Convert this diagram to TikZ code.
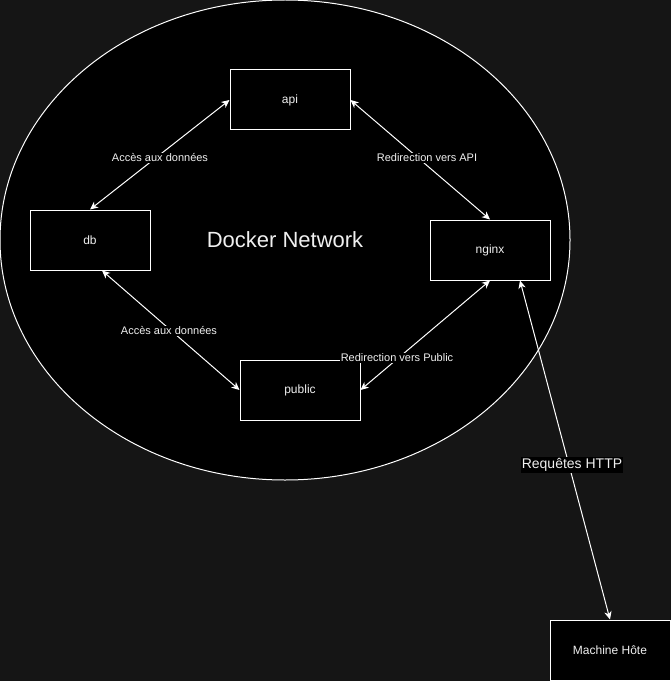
\documentclass[tikz,border=0pt]{standalone}
\usepackage{fontspec}
\setmainfont{Liberation Sans}
\usetikzlibrary{shapes.geometric,arrows.meta}
\definecolor{bgc}{RGB}{21,21,21}
\definecolor{txt}{RGB}{240,240,240}
\tikzset{
  box/.style={draw=white, fill=black, line width=0.75pt, minimum width=90pt, minimum height=45pt, inner sep=0pt, text=txt, font=\fontsize{9pt}{10pt}\selectfont},
  link/.style={draw=white, line width=0.75pt, {Stealth[length=6pt,width=5.5pt,inset=1.8pt]}-{Stealth[length=6pt,width=5.5pt,inset=1.8pt]}},
  elabel/.style={fill=black, text=txt, inner sep=0.8pt, font=\fontsize{8.25pt}{9pt}\selectfont},
}
\begin{document}
\begin{tikzpicture}[x=0.75pt,y=-0.75pt]
\fill[bgc] (0,0) rectangle (671,681);
\useasboundingbox (0,0) rectangle (671,681);
\node[ellipse, draw=white, fill=black, line width=0.75pt, minimum width=427.5pt, minimum height=360pt, inner sep=0pt, text=txt, font=\fontsize{16.5pt}{18pt}\selectfont] (net) at (285,240) {\raisebox{-1pt}{Docker Network}};
\node[box] (api) at (290,100) {api};
\node[box] (db) at (90,240) {db};
\node[box] (nginx) at (490,250) {nginx};
\node[box] (public) at (300,390) {public};
\node[box] (host) at (610,650) {Machine Hôte};
\draw[link] (api.west) -- (db.north);
\draw[link] (api.east) -- (nginx.north);
\draw[link] ([xshift=9pt]db.south) -- (public.west);
\draw[link] (nginx.south) -- (public.east);
\draw[link] ([xshift=22.5pt]nginx.south) -- (host.north);
\node[elabel] (l1) at (160,158) {Accès aux données};
\node[elabel] (l2) at (427,158) {Redirection vers API};
\node[elabel] (l3) at (169,331) {Accès aux données};
\node[elabel] (lpub) at (397,358) {Redirection vers Public};
\node[elabel, font=\fontsize{10.5pt}{12pt}\selectfont] (lhttp) at (572,465) {Requêtes HTTP};
\end{tikzpicture}
\end{document}
